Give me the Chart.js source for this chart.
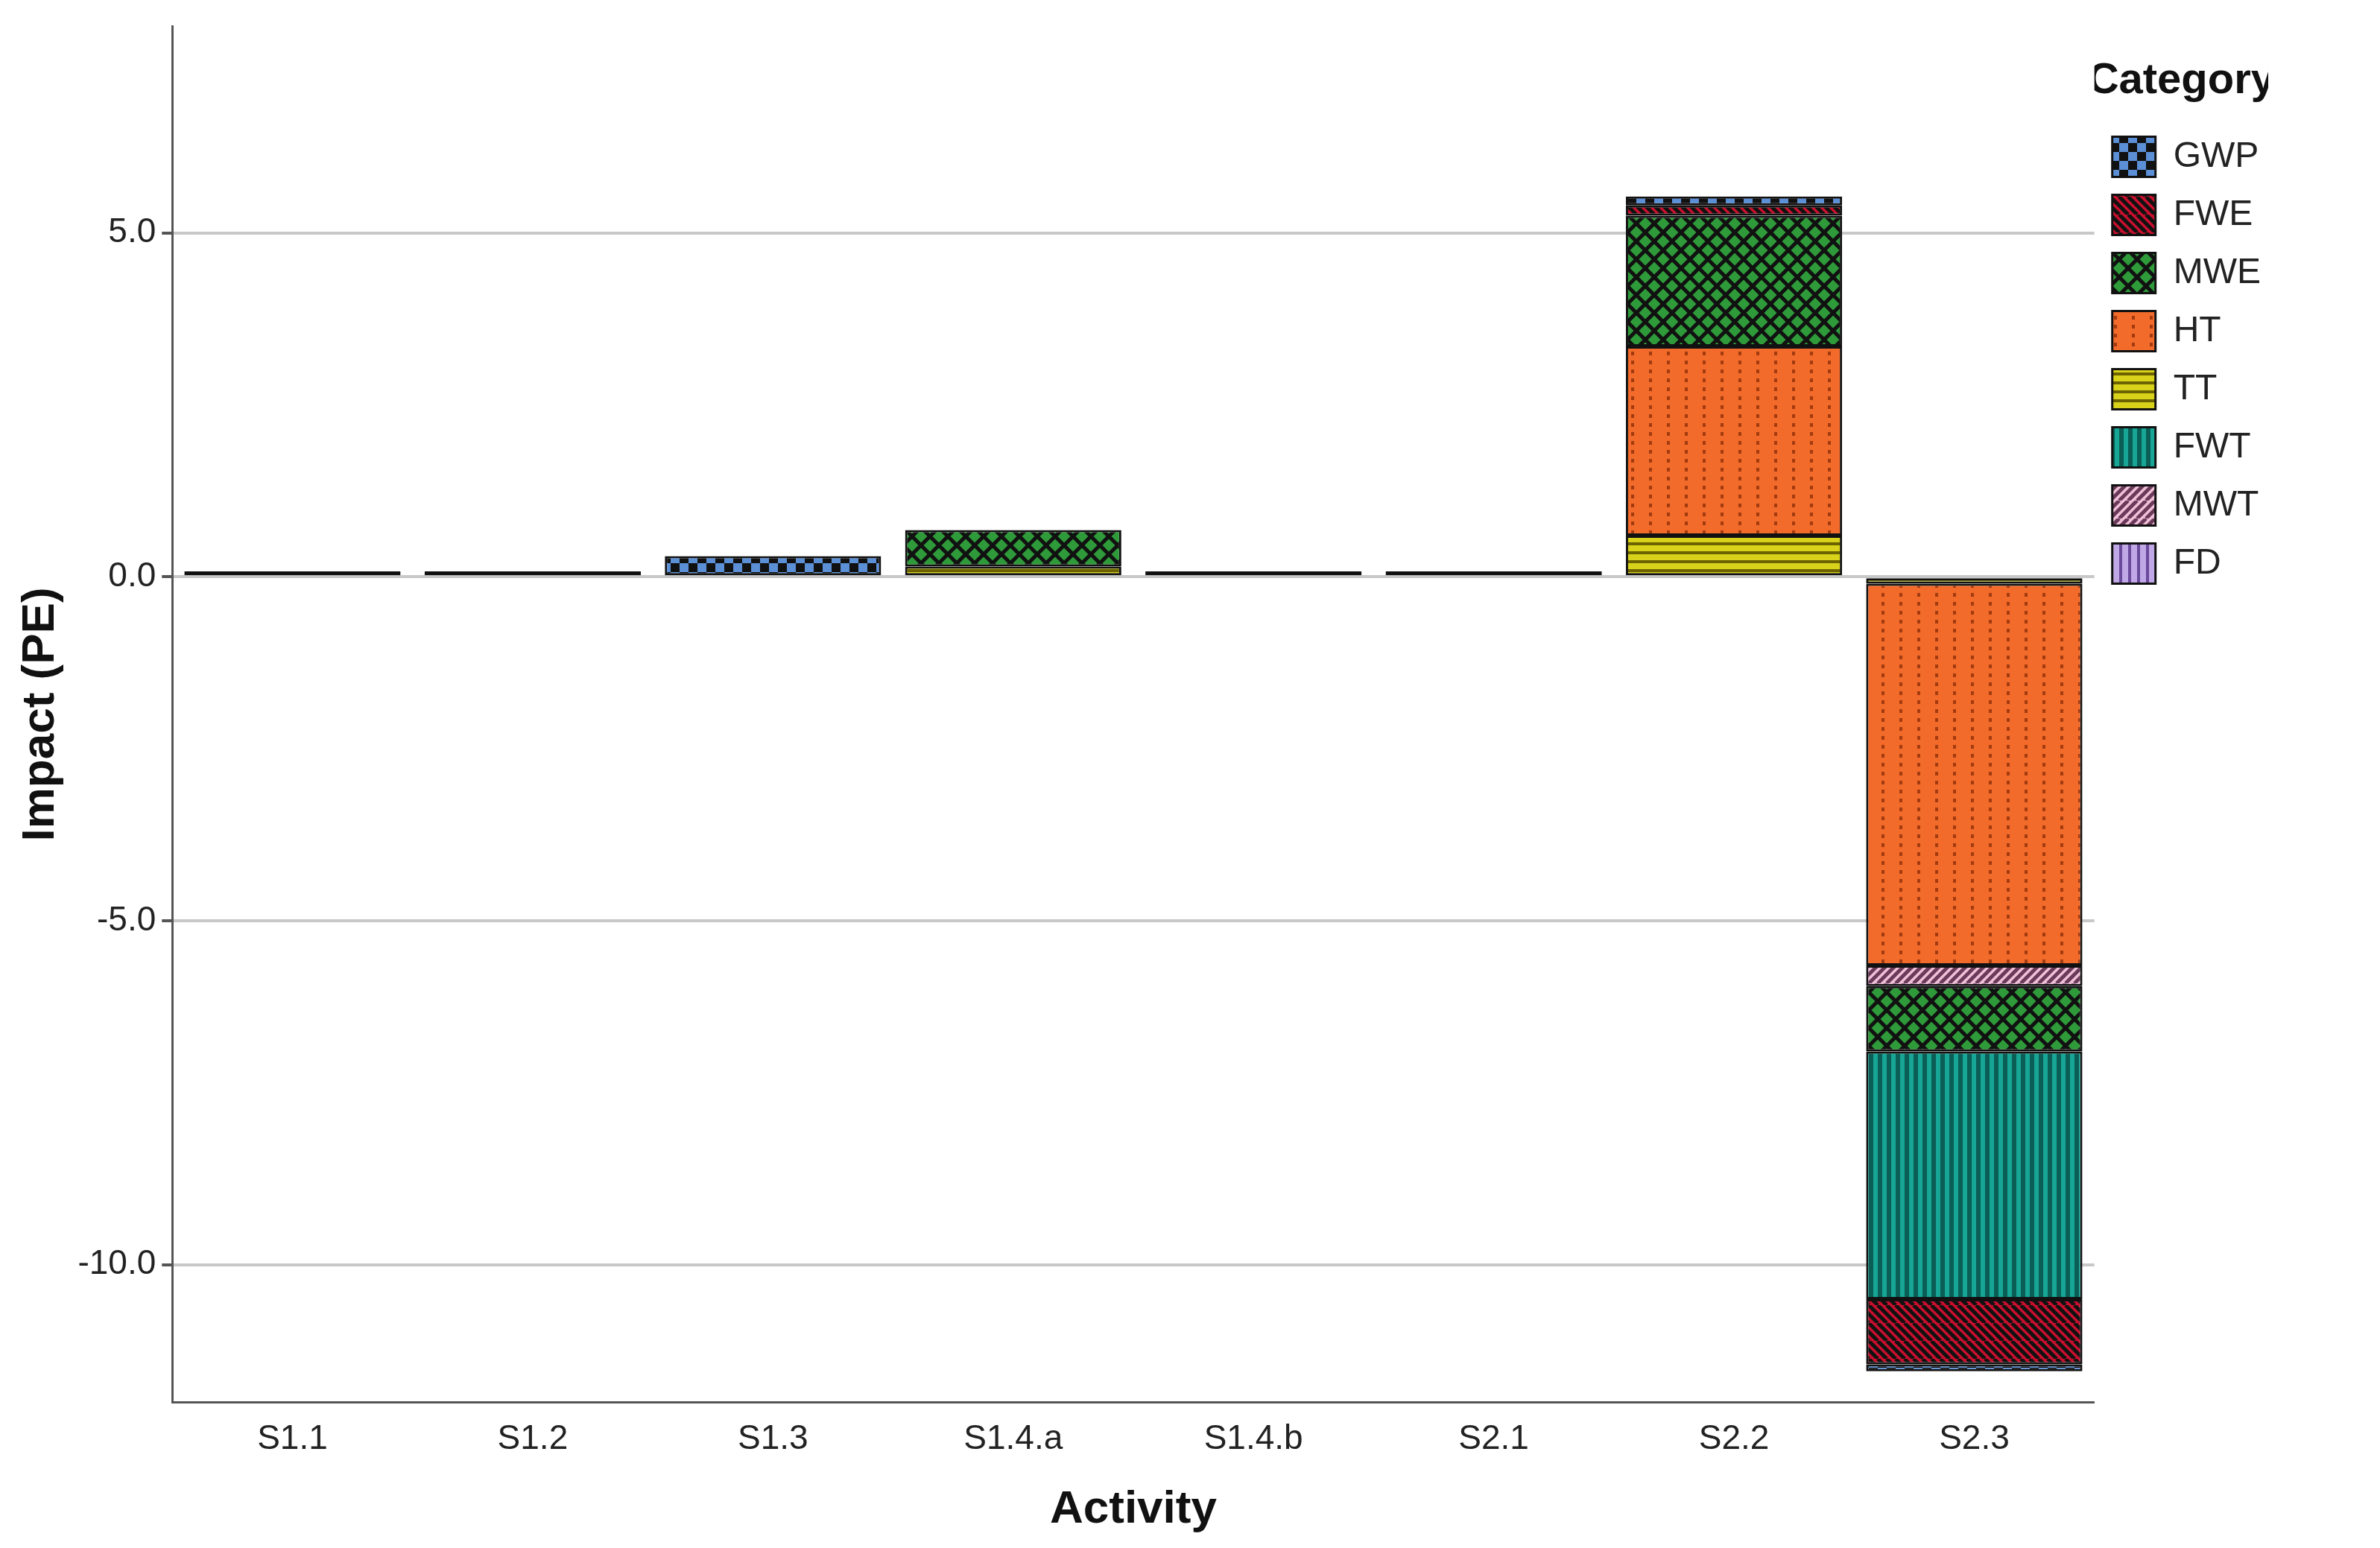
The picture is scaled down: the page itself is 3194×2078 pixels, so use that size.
<!DOCTYPE html>
<html><head><meta charset="utf-8">
<script src="https://cdn.jsdelivr.net/npm/chart.js@4"></script>
<style>html,body{margin:0;background:#fff}#w{width:3194px;height:2078px}</style>
</head><body><div id="w"><canvas id="c"></canvas></div>
<script>
const categories=['S1.1','S1.2','S1.3','S1.4.a','S1.4.b','S2.1','S2.2','S2.3'];
const TT =[0,0,0,0.15,0,0,0.6,-0.1];
const HT =[0,0,0,0,0,0,2.75,-5.55];
const MWT=[0,0,0,0,0,0,0,-0.3];
const MWE=[0,0,0,0.53,0,0,1.9,-0.95];
const FWT=[0,0,0,0,0,0,0,-3.6];
const FWE=[0,0,0,0,0,0,0.15,-0.95];
const GWP=[0.08,0.08,0.3,0,0.08,0.08,0.13,-0.1];
const FD =[0,0,0,0,0,0,0,0];
const legendOrder=['GWP','FWE','MWE','HT','TT','FWT','MWT','FD'];
const yTicks=[-10,-5,0,5];

function pat(bg,type){
  const s=24,c=document.createElement('canvas');c.width=s;c.height=s;const g=c.getContext('2d');
  g.fillStyle=bg;g.fillRect(0,0,s,s);g.fillStyle='#111';g.strokeStyle='#111';
  if(type==='check'){g.fillRect(0,0,12,12);g.fillRect(12,12,12,12);}
  else if(type==='diag'){g.lineWidth=5;for(let k=-s;k<=2*s;k+=12){g.beginPath();g.moveTo(k,0);g.lineTo(k+s,s);g.stroke();}}
  else if(type==='diag2'){g.strokeStyle='#6a3a5a';g.lineWidth=5;for(let k=-s;k<=2*s;k+=12){g.beginPath();g.moveTo(k,s);g.lineTo(k+s,0);g.stroke();}}
  else if(type==='diamond'){g.lineWidth=5;g.beginPath();g.moveTo(0,0);g.lineTo(s,s);g.moveTo(s,0);g.lineTo(0,s);g.stroke();}
  else if(type==='dots'){g.fillStyle='#a33a10';g.fillRect(5,4,4,5);g.fillRect(5,16,4,5);}
  else if(type==='hl'){g.fillStyle='#6b6200';g.fillRect(0,8,s,4);g.fillRect(0,20,s,4);}
  else if(type==='vl'){g.fillStyle='#0a5e55';g.fillRect(0,0,6,s);g.fillRect(12,0,6,s);}
  else if(type==='vl2'){g.fillStyle='#6a4a9a';g.fillRect(0,0,4,s);g.fillRect(12,0,4,s);}
  return document.createElement('canvas').getContext('2d').createPattern(c,'repeat');
}
const styles={
 TT:pat('#d9d21a','hl'),HT:pat('#f26b2a','dots'),MWT:pat('#f0c0d8','diag2'),MWE:pat('#2f9a3a','diamond'),
 FWT:pat('#17a595','vl'),FWE:pat('#c8102e','diag'),GWP:pat('#5b8fd6','check'),FD:pat('#c0a8e6','vl2')};
const series={TT,HT,MWT,MWE,FWT,FWE,GWP,FD};
const datasets=Object.keys(series).map(k=>({label:k,data:series[k],backgroundColor:styles[k],borderColor:'#111',borderWidth:3,borderSkipped:false,barPercentage:0.9,categoryPercentage:1}));
new Chart(document.getElementById('c'),{type:'bar',data:{labels:categories,datasets},
options:{responsive:true,maintainAspectRatio:false,animation:false,
 layout:{padding:{left:14,top:30,right:150,bottom:10}},
 plugins:{legend:{position:'right',align:'start',title:{display:true,text:'Category',color:'#111',font:{family:'Arial, Liberation Sans',size:58,weight:'bold'},padding:{top:50,bottom:10}},
   labels:{color:'#222',font:{family:'Arial, Liberation Sans',size:48},boxWidth:58,boxHeight:54,padding:24,
   sort:(a,b)=>legendOrder.indexOf(a.text)-legendOrder.indexOf(b.text)}},tooltip:{enabled:false}},
 scales:{
  x:{stacked:true,grid:{display:false},border:{color:'#555',width:3},ticks:{color:'#222',font:{family:'Arial, Liberation Sans',size:46},padding:14},
     title:{display:true,text:'Activity',color:'#111',font:{family:'Arial, Liberation Sans',size:62,weight:'bold'},padding:{top:16}}},
  y:{stacked:true,min:-12,max:8,afterBuildTicks:ax=>{ax.ticks=yTicks.map(v=>({value:v}));},
     grid:{color:'#c8c8c8',lineWidth:4,drawTicks:true,tickLength:14,tickColor:'#555'},border:{color:'#555',width:3},
     ticks:{color:'#222',font:{family:'Arial, Liberation Sans',size:46},callback:v=>v.toFixed(1),padding:8},
     title:{display:true,text:'Impact (PE)',color:'#111',font:{family:'Arial, Liberation Sans',size:62,weight:'bold'}}}}}});
</script></body></html>
